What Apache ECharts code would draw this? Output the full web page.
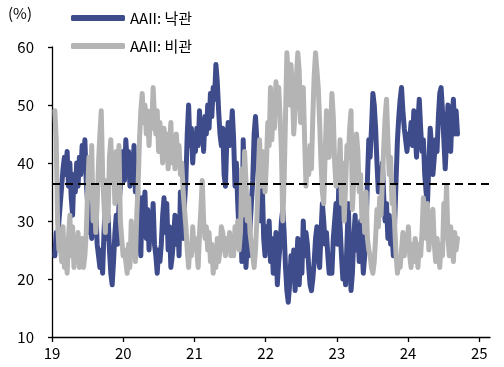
<!DOCTYPE html>
<html>
<head>
<meta charset="utf-8">
<script src="https://cdn.jsdelivr.net/npm/echarts@6/dist/echarts.min.js"></script>
<style>
  html, body { margin: 0; padding: 0; background: #fff; }
  #chart { width: 504px; height: 367px; }
</style>
</head>
<body>
<div id="chart"></div>
<script>
// AAII investor sentiment survey, weekly readings (%), 2019 – Sep 2024
const seriesNames = ['AAII: 낙관', 'AAII: 비관'];
const yearTicks = [19, 20, 21, 22, 23, 24, 25];
const firstWeek = 19.04;           // first survey week, in two-digit year units
const weekStep = 7 / 365.25;
const referenceLevel = 36.4;       // long-run reference level (dashed line)
const referenceSpan = [19, 25.25]; // dashed line runs slightly past the axis end

// Bullish share (낙관)
const bull2019 = [24, 28, 26, 30, 33, 36, 39, 41, 38, 42, 36, 40, 34, 31, 38, 35, 40, 36, 41, 38, 43, 40, 44, 37, 33, 28,
                  30, 27, 34, 29, 32, 26, 24, 22, 25, 21, 28, 33, 27, 31, 25, 21, 19, 23, 28, 31, 26, 33, 36, 39, 42, 37];
const bull2020 = [44, 40, 42, 36, 41, 38, 43, 35, 40, 33, 28, 24, 34, 30, 35, 27, 32, 25, 30, 28, 33, 26, 24, 21, 25, 23,
                  26, 31, 34, 28, 33, 25, 29, 22, 24, 27, 31, 26, 30, 24, 35, 30, 27, 33, 37, 45, 50, 43, 46, 40, 44, 42];
const bull2021 = [46, 43, 49, 44, 47, 42, 48, 45, 50, 46, 52, 48, 53, 51, 57, 54, 49, 45, 43, 46, 38, 36, 44, 47, 43, 45,
                  49, 44, 36, 40, 33, 28, 31, 23, 44, 35, 22, 26, 24, 29, 33, 37, 45, 48, 44, 38, 33, 30, 36, 27, 24, 29];
const bull2022 = [25, 30, 23, 27, 21, 24, 28, 19, 23, 26, 30, 32, 28, 22, 18, 16, 19, 24, 20, 25, 18, 22, 27, 19, 24, 21,
                  30, 24, 28, 26, 22, 19, 18, 20, 23, 27, 29, 24, 22, 28, 33, 30, 26, 28, 24, 21, 23, 21, 27, 30, 33, 26];
const bull2023 = [36, 29, 24, 20, 22, 19, 26, 33, 24, 18, 21, 27, 31, 25, 29, 23, 30, 26, 21, 24, 28, 37, 44, 41, 46, 52,
                  50, 46, 40, 35, 38, 36, 40, 34, 30, 33, 27, 31, 26, 28, 24, 30, 37, 44, 48, 51, 53, 49, 46, 44, 42, 45];
const bull2024 = [44, 47, 43, 49, 45, 41, 47, 51, 46, 42, 44, 38, 35, 33, 40, 46, 43, 38, 41, 44, 42, 48, 52, 53, 49, 44,
                  39, 44, 50, 46, 42, 48, 51, 45, 49, 45];

// Bearish share (비관)
const bear2019 = [49, 44, 30, 25, 26, 23, 29, 22, 25, 21, 27, 31, 24, 29, 22, 26, 23, 28, 22, 25, 27, 22, 24, 28, 35, 41,
                  34, 43, 30, 36, 28, 33, 40, 45, 49, 38, 33, 28, 37, 30, 41, 44, 37, 40, 33, 42, 36, 43, 30, 27, 24, 25];
const bear2020 = [23, 21, 26, 22, 30, 25, 28, 23, 31, 36, 44, 49, 52, 47, 50, 45, 49, 43, 48, 46, 53, 48, 45, 49, 42, 47,
                  44, 40, 46, 41, 45, 39, 43, 47, 40, 44, 39, 45, 41, 43, 38, 40, 35, 32, 29, 25, 22, 26, 24, 29, 25, 27];
const bear2021 = [25, 22, 28, 32, 37, 30, 27, 29, 25, 28, 23, 26, 21, 24, 22, 27, 23, 25, 29, 28, 26, 24, 27, 25, 28, 24,
                  27, 24, 29, 26, 30, 25, 28, 39, 31, 42, 37, 30, 34, 28, 26, 24, 22, 25, 30, 38, 44, 36, 42, 39, 35, 40];
const bear2022 = [47, 43, 53, 44, 51, 46, 54, 50, 53, 48, 42, 30, 37, 48, 59, 55, 50, 57, 53, 45, 49, 55, 59, 56, 47, 52,
                  53, 44, 36, 41, 38, 43, 39, 48, 55, 59, 59, 53, 47, 40, 35, 33, 41, 49, 44, 41, 46, 52, 48, 40, 36, 39];
const bear2023 = [38, 44, 33, 40, 30, 36, 43, 41, 46, 49, 32, 37, 40, 45, 42, 35, 38, 30, 34, 28, 35, 27, 25, 24, 22, 21,
                  23, 27, 32, 29, 34, 31, 37, 43, 48, 51, 44, 38, 41, 33, 36, 29, 24, 21, 23, 22, 25, 28, 24, 27, 25, 29];
const bear2024 = [24, 22, 26, 23, 27, 25, 22, 26, 24, 28, 34, 30, 27, 33, 25, 29, 31, 32, 26, 23, 27, 25, 22, 26, 24, 33,
                  30, 36, 27, 24, 29, 26, 23, 28, 25, 27];

const bullish = [].concat(bull2019, bull2020, bull2021, bull2022, bull2023, bull2024);
const bearish = [].concat(bear2019, bear2020, bear2021, bear2022, bear2023, bear2024);

// pair each weekly reading with its date on the year axis
const toPoints = (values) => values.map((v, i) => [firstWeek + i * weekStep, v]);

const FONT = '"Noto Sans CJK KR", "Noto Sans", sans-serif';
const BLUE = '#3F4C8C';
const GRAY = '#B4B4B4';

const chart = echarts.init(document.getElementById('chart'), null, { renderer: 'canvas' });

chart.setOption({
  animation: false,
  backgroundColor: '#fff',
  textStyle: { fontFamily: FONT },
  grid: { left: 52, top: 47, right: 14, bottom: 30 },
  graphic: [{
    type: 'text', left: 8, top: 6,
    style: { text: '(%)', fontSize: 15, fill: '#000', fontFamily: FONT }
  }],
  legend: {
    orient: 'vertical',
    left: 66, top: 3,
    itemWidth: 54, itemHeight: 6, itemGap: 8,
    icon: 'roundRect',
    textStyle: { fontSize: 15, color: '#000', fontFamily: FONT, lineHeight: 20 },
    data: seriesNames
  },
  xAxis: {
    type: 'value',
    min: 19, max: 25.15,
    interval: 1,
    axisLine: { lineStyle: { color: '#000', width: 1.3 } },
    axisTick: { show: true, length: 5, customValues: yearTicks, lineStyle: { color: '#000', width: 1.3 } },
    axisLabel: { fontSize: 15, color: '#000', margin: 9, fontFamily: FONT, customValues: yearTicks },
    splitLine: { show: false }
  },
  yAxis: {
    type: 'value',
    min: 10, max: 60, interval: 10,
    axisLine: { show: true, lineStyle: { color: '#000', width: 1.3 } },
    axisTick: { show: true, length: 4, lineStyle: { color: '#000', width: 1.3 } },
    axisLabel: { fontSize: 15, color: '#000', margin: 18, fontFamily: FONT },
    splitLine: { show: false }
  },
  series: [
    {
      name: seriesNames[0],
      type: 'line',
      data: toPoints(bullish),
      showSymbol: false,
      symbol: 'none',
      color: BLUE,
      lineStyle: { color: BLUE, width: 5, cap: 'round', join: 'round' },
      z: 2
    },
    {
      name: seriesNames[1],
      type: 'line',
      data: toPoints(bearish),
      showSymbol: false,
      symbol: 'none',
      color: GRAY,
      lineStyle: { color: GRAY, width: 5, cap: 'round', join: 'round' },
      z: 3
    },
    {
      // horizontal reference level, drawn past the right end of the axis
      name: 'reference',
      type: 'line',
      data: referenceSpan.map((x) => [x, referenceLevel]),
      clip: false,
      silent: true,
      showSymbol: false,
      symbol: 'none',
      z: 5,
      lineStyle: { color: '#000', type: [8, 5], width: 2 }
    }
  ]
});
</script>
</body>
</html>
